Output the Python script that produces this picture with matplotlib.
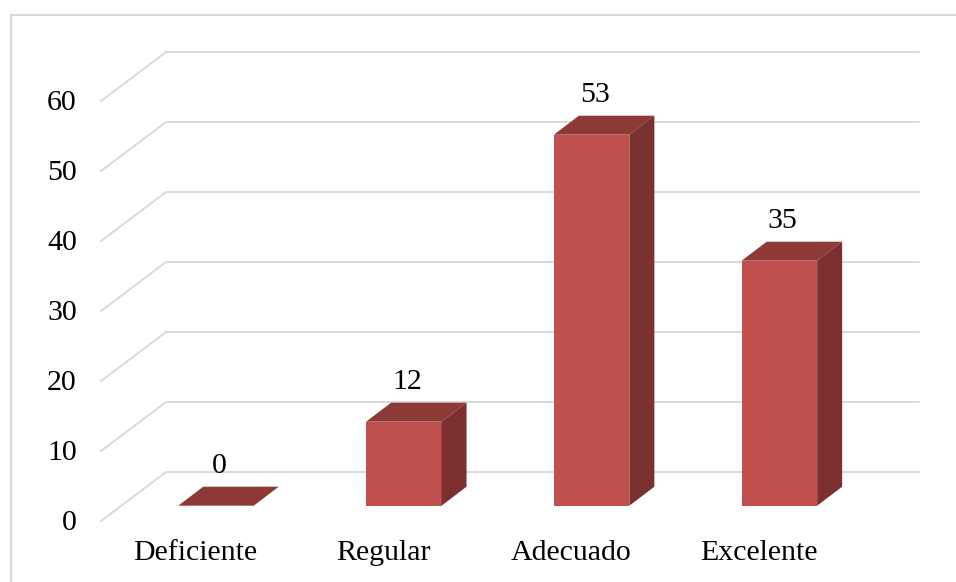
import matplotlib
matplotlib.use("Agg")
from matplotlib import pyplot as plt
from matplotlib.patches import Polygon
from matplotlib.lines import Line2D

plt.rcParams['font.family'] = ['Liberation Serif', 'DejaVu Serif']

# data
categories = ["Deficiente", "Regular", "Adecuado", "Excelente"]
values = [0, 12, 53, 35]
yticks = [0, 10, 20, 30, 40, 50, 60]

# colours
front_col = '#C0504D'
top_col = '#8D3936'
side_col = '#7B302F'
grid_col = '#D9D9D9'
fs = 21.5

W, H = 956, 582
fig = plt.figure(figsize=(W / 100, H / 100), dpi=100)
ax = fig.add_axes([0, 0, 1, 1])

# pixel scale of the front (bar) plane
px_cat = 187.8          # pixels per category
px_val = 7.0            # pixels per unit
x0_px = 216             # centre of first bar
base_px = 505.7         # bar baseline, from top

ax.set_xlim(-x0_px / px_cat, (W - x0_px) / px_cat)
ax.set_ylim(-(H - base_px) / px_val, base_px / px_val)
ax.axis('off')

def dx(p):
    return p / px_cat

def dy(p):
    return p / px_val

# depth offsets (pixels)
bar_depth = (25, 19)
front_floor = (-20.7, -15.3)
back_wall = (-50, 33.7)
wall_right = 918.7

# back wall gridlines + left wall diagonals
for v in yticks:
    xf, yf = dx(101 - x0_px), v + dy(front_floor[1])
    xb, yb = dx(166 - x0_px), v + dy(back_wall[1])
    xr = dx(wall_right - x0_px)
    ax.plot([xf, xb, xr], [yf, yb, yb], color=grid_col, lw=1.4,
            solid_joinstyle='miter', zorder=1)
    ax.text(dx(77 - x0_px), yf - dy(1.5), str(v), ha='right', va='center',
            fontsize=fs, color='black')

# bars
w = 75.5 / px_cat
ddx, ddy = dx(bar_depth[0]), dy(bar_depth[1])
xs = list(range(len(categories)))
ax.bar(xs, values, width=w, color=front_col, edgecolor='none', zorder=3)
for i, v in zip(xs, values):
    l, r = i - w / 2, i + w / 2
    top = Polygon([(l, v), (r, v), (r + ddx, v + ddy), (l + ddx, v + ddy)],
                  closed=True, facecolor=top_col, edgecolor='none', zorder=3)
    side = Polygon([(r, 0), (r + ddx, ddy), (r + ddx, v + ddy), (r, v)],
                   closed=True, facecolor=side_col, edgecolor='none', zorder=3)
    ax.add_patch(top)
    ax.add_patch(side)
    ax.text(i + dx(3), v + dy(40), str(v), ha='center', va='center',
            fontsize=fs, color='black', zorder=4)
    ax.text(i + dx(front_floor[0]), -dy(553 - base_px), categories[i],
            ha='center', va='center', fontsize=fs, color='black')

# chart border (left and top edges visible)
fig.add_artist(Line2D([10.5 / W, 10.5 / W], [0, 1 - 15 / H],
                      transform=fig.transFigure, color=grid_col, lw=1.5))
fig.add_artist(Line2D([10.5 / W, 1], [1 - 15 / H, 1 - 15 / H],
                      transform=fig.transFigure, color=grid_col, lw=1.5))

plt.savefig('out.png', dpi=100)
